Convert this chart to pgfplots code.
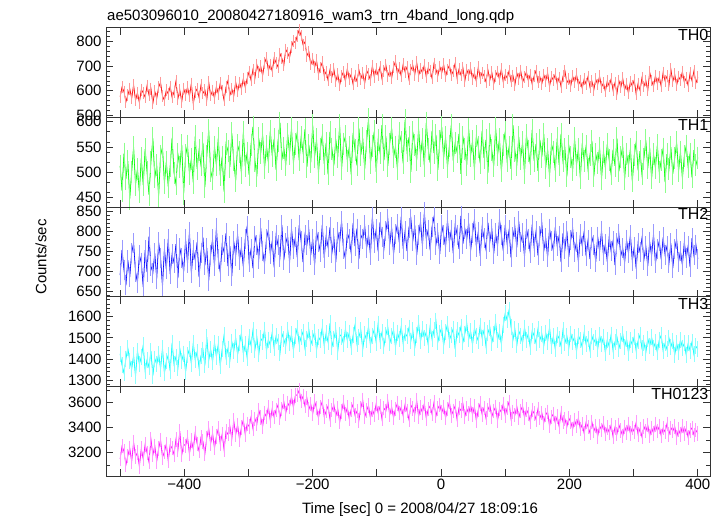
\documentclass[border=0pt]{standalone}
\usepackage{fontspec}
\setmainfont{Liberation Sans}
\usepackage{pgfplots}
\pgfplotsset{compat=1.18}
\usepackage{pgfplotstable}

\pgfplotstableread{
t th0 th1 th2 th3 tot
-500 576 513 690 1425 3150
-497 615 464 753 1372 3252
-494 597 537 703 1335 3211
-491 555 487 664 1402 3102
-488 583 522 727 1451 3175
-485 609 448 685 1393 3238
-482 569 501 745 1353 3128
-479 624 550 770 1418 3285
-476 561 476 698 1319 3169
-473 592 507 671 1439 3202
-470 552 461 740 1376 3090
-467 605 528 721 1410 3233
-464 592 475 660 1465 3149
-461 574 546 752 1344 3267
-458 621 500 697 1396 3200
-455 583 456 786 1362 3124
-452 609 521 712 1439 3309
-449 549 567 696 1322 3182
-446 598 490 744 1402 3256
-443 568 514 681 1376 3131
-440 615 453 772 1423 3234
-437 634 533 733 1354 3303
-434 579 550 662 1451 3163
-431 561 479 756 1333 3207
-428 603 521 704 1389 3270
-425 587 472 780 1419 3133
-422 618 512 692 1343 3261
-419 573 568 742 1476 3236
-416 596 499 721 1376 3186
-413 639 477 767 1411 3307
-410 568 536 682 1357 3221
-407 603 511 757 1449 3372
-404 556 554 733 1393 3182
-401 609 458 698 1426 3267
-398 584 534 779 1339 3255
-395 615 553 719 1418 3326
-392 578 497 798 1447 3188
-389 630 527 694 1378 3299
-386 547 480 753 1476 3229
-383 594 571 728 1396 3360
-380 608 507 772 1434 3272
-377 573 544 685 1359 3214
-374 623 514 746 1415 3323
-371 590 558 784 1445 3291
-368 604 471 714 1370 3189
-365 563 532 758 1504 3318
-362 636 584 676 1394 3396
-359 581 503 740 1447 3271
-356 601 487 779 1387 3357
-353 570 551 712 1478 3236
-350 617 514 808 1411 3331
-347 588 568 730 1471 3393
-344 631 494 697 1369 3273
-341 601 531 766 1446 3349
-338 561 462 747 1513 3222
-335 615 556 794 1408 3371
-332 641 542 712 1449 3348
-329 582 511 762 1394 3411
-326 608 577 687 1482 3311
-323 579 524 774 1437 3457
-320 636 483 738 1502 3343
-317 597 554 792 1421 3424
-314 634 540 728 1474 3307
-311 608 498 759 1522 3403
-308 650 580 710 1425 3464
-305 614 512 780 1469 3345
-302 651 539 812 1405 3432
-299 678 495 723 1504 3410
-296 643 555 754 1465 3486
-293 687 590 707 1536 3392
-290 652 523 787 1445 3472
-287 707 492 765 1503 3428
-284 676 567 731 1422 3542
-281 700 538 808 1498 3482
-278 662 575 749 1483 3409
-275 713 508 718 1539 3516
-272 734 552 780 1439 3487
-269 683 520 803 1492 3566
-266 707 582 742 1466 3457
-263 680 533 775 1526 3554
-260 734 566 709 1451 3484
-257 714 505 790 1508 3543
-254 697 561 764 1482 3582
-251 751 598 735 1427 3479
-248 732 526 815 1520 3549
-245 703 549 727 1493 3609
-242 768 514 769 1463 3515
-239 754 576 788 1539 3599
-236 736 537 721 1475 3568
-233 778 587 806 1517 3651
-230 803 518 754 1442 3562
-227 796 556 784 1507 3657
-224 824 579 734 1546 3664
-221 848 524 814 1472 3699
-218 825 569 775 1504 3615
-215 788 540 722 1528 3651
-212 799 585 790 1451 3573
-209 743 511 766 1495 3636
-206 760 554 802 1539 3547
-203 707 520 740 1469 3588
-200 730 593 781 1498 3511
-197 696 531 714 1528 3609
-194 724 565 799 1443 3557
-191 668 499 772 1504 3478
-188 695 547 748 1488 3564
-185 716 573 816 1550 3610
-182 663 517 733 1463 3489
-179 678 558 788 1523 3532
-176 643 496 760 1480 3573
-173 686 580 809 1568 3467
-170 657 546 746 1459 3540
-167 688 514 783 1497 3582
-164 640 565 722 1536 3493
-161 668 530 798 1435 3553
-158 623 593 772 1516 3444
-155 660 507 825 1506 3531
-152 677 557 754 1471 3604
-149 639 571 731 1542 3511
-146 690 523 795 1488 3561
-143 648 550 780 1525 3472
-140 667 496 745 1455 3546
-137 626 578 820 1512 3587
-134 662 544 762 1561 3498
-131 639 514 806 1472 3532
-128 685 587 730 1505 3459
-125 649 534 790 1536 3559
-122 672 567 779 1447 3621
-119 630 506 814 1517 3485
-116 683 561 757 1490 3537
-113 667 605 791 1554 3578
-110 644 518 741 1465 3477
-107 702 552 836 1511 3546
-104 657 581 771 1540 3502
-101 688 501 804 1478 3593
-98 664 564 749 1567 3518
-95 697 539 822 1487 3569
-92 649 593 786 1526 3468
-89 682 524 756 1462 3556
-86 705 571 801 1515 3534
-83 660 513 831 1551 3616
-80 681 557 766 1475 3502
-77 652 588 809 1508 3566
-74 698 530 742 1539 3479
-71 720 551 792 1457 3552
-68 670 507 817 1525 3595
-65 693 577 771 1495 3520
-62 660 560 836 1555 3566
-59 708 518 756 1473 3495
-56 677 603 800 1521 3586
-53 697 542 750 1508 3535
-50 647 569 808 1547 3466
-47 687 501 830 1487 3580
-44 703 579 776 1535 3553
-41 666 555 814 1454 3506
-38 716 524 739 1514 3618
-35 662 586 789 1568 3490
-32 691 533 823 1484 3562
-29 673 566 763 1541 3521
-26 705 512 847 1500 3595
-23 656 598 780 1528 3475
-20 693 547 803 1468 3548
-17 682 519 752 1554 3574
-14 651 582 811 1494 3508
-11 711 538 835 1536 3602
-8 687 574 766 1580 3493
-5 662 505 794 1481 3554
-2 699 561 742 1523 3583
1 673 590 815 1548 3521
4 708 528 790 1464 3567
7 658 570 760 1527 3478
10 687 510 827 1564 3548
13 704 553 772 1490 3606
16 664 594 803 1516 3499
19 680 523 744 1543 3535
22 712 558 816 1447 3574
25 652 540 791 1535 3464
28 688 576 755 1513 3559
31 665 497 838 1552 3538
34 694 570 768 1479 3592
37 640 547 806 1519 3490
40 686 515 779 1570 3553
43 664 586 821 1493 3513
46 692 533 750 1532 3581
49 649 561 794 1468 3505
52 673 506 829 1545 3569
55 638 572 761 1511 3458
58 696 551 798 1486 3542
61 652 518 738 1558 3593
64 674 582 809 1501 3507
67 661 528 782 1536 3559
70 637 564 754 1461 3476
73 685 499 821 1524 3544
76 644 576 773 1549 3580
79 676 544 806 1477 3488
82 628 512 743 1517 3534
85 661 588 794 1574 3567
88 679 534 762 1489 3458
91 647 566 829 1528 3549
94 689 502 791 1471 3523
97 634 555 750 1561 3592
100 666 580 815 1616 3499
103 652 522 768 1583 3556
106 681 550 802 1631 3607
109 639 507 734 1553 3471
112 662 593 785 1491 3528
115 624 543 810 1540 3502
118 673 515 759 1465 3570
121 648 570 824 1533 3478
124 683 527 772 1510 3536
127 635 559 795 1476 3573
130 656 498 736 1549 3480
133 677 574 806 1490 3545
136 641 543 781 1520 3512
139 666 516 746 1455 3448
142 627 584 816 1533 3541
145 660 523 760 1510 3515
148 682 556 799 1475 3465
151 636 503 739 1541 3550
154 656 564 787 1491 3478
157 629 531 819 1518 3518
160 666 576 750 1462 3439
163 641 509 783 1525 3503
166 673 546 734 1481 3527
169 618 493 806 1550 3412
172 658 556 774 1463 3486
175 643 541 750 1507 3510
178 668 503 810 1447 3437
181 629 567 762 1515 3490
184 654 515 788 1497 3409
187 617 576 722 1461 3519
190 659 522 794 1537 3446
193 681 546 755 1477 3470
196 633 492 800 1509 3408
199 647 553 735 1452 3477
202 620 530 777 1520 3446
205 660 504 807 1482 3389
208 634 567 748 1504 3461
211 667 514 773 1436 3412
214 624 547 723 1511 3477
217 641 488 792 1489 3389
220 610 557 763 1456 3428
223 648 523 799 1525 3354
226 627 552 737 1471 3444
229 658 506 777 1495 3408
232 615 534 730 1442 3358
235 639 562 784 1508 3445
238 604 492 766 1479 3372
241 647 536 723 1499 3412
244 626 518 786 1448 3331
247 659 549 749 1513 3415
250 616 487 801 1471 3383
253 632 541 739 1502 3436
256 597 509 768 1430 3350
259 640 556 723 1491 3401
262 619 524 786 1459 3363
265 648 496 749 1515 3420
268 602 545 775 1440 3328
271 633 513 715 1481 3403
274 588 567 769 1505 3351
277 642 502 792 1450 3423
280 614 530 738 1484 3379
283 651 551 757 1518 3334
286 604 487 721 1457 3408
289 629 537 778 1496 3363
292 590 513 744 1431 3430
295 638 547 790 1491 3353
298 619 482 725 1467 3400
301 644 534 760 1506 3367
304 586 560 706 1439 3443
307 630 504 770 1486 3346
310 602 542 748 1513 3392
313 653 496 782 1451 3327
316 618 527 728 1478 3410
319 642 563 762 1431 3372
322 601 508 712 1497 3422
325 676 549 773 1462 3335
328 642 488 738 1503 3400
331 618 536 792 1453 3355
334 662 509 719 1479 3425
337 629 554 754 1432 3375
340 656 500 775 1490 3409
343 618 524 729 1512 3336
346 675 547 784 1439 3396
349 641 481 741 1474 3366
352 659 536 762 1446 3431
355 622 506 719 1500 3346
358 688 550 769 1457 3400
361 638 497 707 1487 3373
364 667 528 755 1419 3410
367 623 559 779 1475 3323
370 658 502 723 1435 3385
373 643 541 750 1490 3345
376 678 488 715 1454 3412
379 635 532 772 1474 3354
382 652 553 733 1418 3396
385 621 510 763 1474 3322
388 672 537 710 1440 3377
391 641 490 782 1481 3398
394 681 544 739 1422 3344
397 632 514 766 1460 3380
400 655 529 730 1447 3354
}\lc

\definecolor{qred}{rgb}{1,0,0}
\definecolor{qgreen}{rgb}{0,1,0}
\definecolor{qblue}{rgb}{0,0,1}
\definecolor{qcyan}{rgb}{0,1,1}
\definecolor{qmag}{rgb}{1,0,1}
\colorlet{lred}{qred!40!white}
\colorlet{lgreen}{qgreen!45!white}
\colorlet{lblue}{qblue!40!white}
\colorlet{lcyan}{qcyan!45!white}
\colorlet{lmag}{qmag!40!white}

\pgfplotsset{
  panel/.style={
    scale only axis, width=604bp, height=89.66bp,
    anchor=north west,
    xmin=-522, xmax=419,
    xtick={-500,-400,...,400},
    xticklabels={},
    xtick pos=both, ytick pos=both,
    tick align=inside,
    major tick length=7bp, minor tick length=4bp,
    axis line style={line width=0.9bp, black!80},
    every tick/.style={line width=0.9bp, black!80},
    every minor tick/.style={line width=0.9bp, black!80},
    tick label style={font=\fontsize{15bp}{17bp}\selectfont},
    /pgf/number format/assume math mode=true,
    /pgf/number format/set thousands separator={},
    yticklabel style={xshift=-1bp},
  },
  halo/.style 2 args={draw=#1, color=#1, line width=0.9bp, mark=|, mark size=#2,
     mark options={solid, draw=#1, fill=#1, color=#1, line width=0.9bp}},
  core/.style={line width=0.55bp},
}

\begin{document}
\begin{tikzpicture}
\useasboundingbox (0,0) rectangle (724bp,-516bp);

\begin{axis}[panel, name=a1, at={(106bp,-27.7bp)},
  ymin=492, ymax=857, ytick={500,600,700,800}, minor ytick={520,540,...,840}]
  \addplot[halo={lred}{5.9bp}] table[x=t, y=th0]{\lc};
  \addplot[qred, core] table[x=t, y=th0]{\lc};
  \node[anchor=north east, inner sep=1.5bp, font=\fontsize{16bp}{18bp}\selectfont] at (rel axis cs:1,1) {TH0};
\end{axis}

\begin{axis}[panel, name=a2, at={(a1.south west)},
  ymin=431.6, ymax=608.6, ytick={450,500,550,600}, minor ytick={440,460,...,600}]
  \addplot[halo={lgreen}{11bp}] table[x=t, y=th1]{\lc};
  \addplot[qgreen, core] table[x=t, y=th1]{\lc};
  \node[anchor=north east, inner sep=1.5bp, font=\fontsize{16bp}{18bp}\selectfont] at (rel axis cs:1,1) {TH1};
\end{axis}

\begin{axis}[panel, name=a3, at={(a2.south west)},
  ymin=635.8, ymax=860, ytick={650,700,...,850}, minor ytick={640,650,...,860}]
  \addplot[halo={lblue}{10bp}] table[x=t, y=th2]{\lc};
  \addplot[qblue, core] table[x=t, y=th2]{\lc};
  \node[anchor=north east, inner sep=1.5bp, font=\fontsize{16bp}{18bp}\selectfont] at (rel axis cs:1,1) {TH2};
\end{axis}

\begin{axis}[panel, name=a4, at={(a3.south west)},
  ymin=1271.5, ymax=1694.4, ytick={1300,1400,1500,1600}, minor ytick={1280,1300,...,1680}]
  \addplot[halo={lcyan}{8bp}] table[x=t, y=th3]{\lc};
  \addplot[qcyan, core] table[x=t, y=th3]{\lc};
  \node[anchor=north east, inner sep=1.5bp, font=\fontsize{16bp}{18bp}\selectfont] at (rel axis cs:1,1) {TH3};
\end{axis}

\begin{axis}[panel, name=a5, at={(a4.south west)},
  ymin=3013.6, ymax=3730.9, ytick={3200,3400,3600}, minor ytick={3100,3300,3500,3700},
  xticklabels={,−400,,−200,,0,,200,,400}]
  \addplot[halo={lmag}{7.2bp}] table[x=t, y=tot]{\lc};
  \addplot[qmag, core] table[x=t, y=tot]{\lc};
  \node[anchor=north east, inner sep=1.5bp, font=\fontsize{16bp}{18bp}\selectfont] at (rel axis cs:1,1) {TH0123};
\end{axis}

\node[anchor=base west, inner sep=0pt, font=\fontsize{15bp}{17bp}\selectfont] at (107bp,-20.7bp) {ae503096010\_20080427180916\_wam3\_trn\_4band\_long.qdp};
\node[anchor=base, inner sep=0pt, font=\fontsize{15bp}{17bp}\selectfont] at (420bp,-513bp) {Time [sec] 0 = 2008/04/27 18:09:16};
\node[rotate=90, inner sep=0pt, font=\fontsize{15bp}{17bp}\selectfont] at (41bp,-257bp) {Counts/sec};
\end{tikzpicture}
\end{document}
